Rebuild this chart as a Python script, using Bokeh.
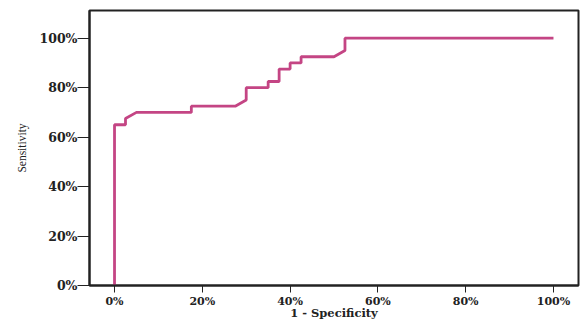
from bokeh.plotting import figure
from bokeh.models import Range1d, FixedTicker, PrintfTickFormatter
from bokeh.embed import file_html
from bokeh.resources import INLINE

# ROC curve data (percent)
fpr = [0, 0, 2.5, 2.5, 5, 17.5, 17.5, 27.5, 30, 30, 35, 35, 37.5, 37.5, 40, 40,
       42.5, 42.5, 50, 52.5, 52.5, 100]
tpr = [0, 65, 65, 67.5, 70, 70, 72.5, 72.5, 75, 80, 80, 82.5, 82.5, 87.5, 87.5, 90,
       90, 92.5, 92.5, 95, 100, 100]
tick_values = [0, 20, 40, 60, 80, 100]

p = figure(width=586, height=322, output_backend="svg", toolbar_location=None,
           x_range=Range1d(-5.7, 105.7), y_range=Range1d(0, 111.2),
           min_border_left=89, min_border_right=8, min_border_top=10, min_border_bottom=34)
p.background_fill_color = "white"
p.border_fill_color = "white"
p.outline_line_color = "#222222"
p.outline_line_width = 2
p.xgrid.visible = False
p.ygrid.visible = False

p.line(fpr, tpr, line_color="#C44584", line_width=2.8)

for ax in (p.xaxis[0], p.yaxis[0]):
    ax.ticker = FixedTicker(ticks=tick_values)
    ax.formatter = PrintfTickFormatter(format="%d%%")
    ax.minor_tick_line_color = None
    ax.axis_line_color = "#222222"
    ax.axis_line_width = 2
    ax.major_tick_line_color = "#222222"
    ax.major_tick_line_width = 1
    ax.major_tick_in = 0
    ax.major_label_text_font = "DejaVu Serif"
    ax.major_label_text_font_style = "bold"
    ax.major_label_text_color = "#222222"

p.xaxis[0].major_label_text_font_size = "11px"
p.xaxis[0].major_tick_out = 7
p.xaxis[0].major_label_standoff = 2
p.xaxis[0].axis_label = "1 - Specificity"
p.xaxis[0].axis_label_text_font = "DejaVu Serif"
p.xaxis[0].axis_label_text_font_style = "bold"
p.xaxis[0].axis_label_text_font_size = "11.5px"
p.xaxis[0].axis_label_text_color = "#222222"
p.xaxis[0].axis_label_standoff = -5

p.yaxis[0].major_label_text_font_size = "12.5px"
p.yaxis[0].major_tick_out = 12
p.yaxis[0].major_label_standoff = 0
p.yaxis[0].axis_label = "Sensitivity"
p.yaxis[0].axis_label_text_font = "Liberation Serif"
p.yaxis[0].axis_label_text_font_style = "normal"
p.yaxis[0].axis_label_text_font_size = "11.5px"
p.yaxis[0].axis_label_text_color = "#222222"
p.yaxis[0].axis_label_standoff = 9

open("out.html", "w").write(file_html(p, INLINE))
